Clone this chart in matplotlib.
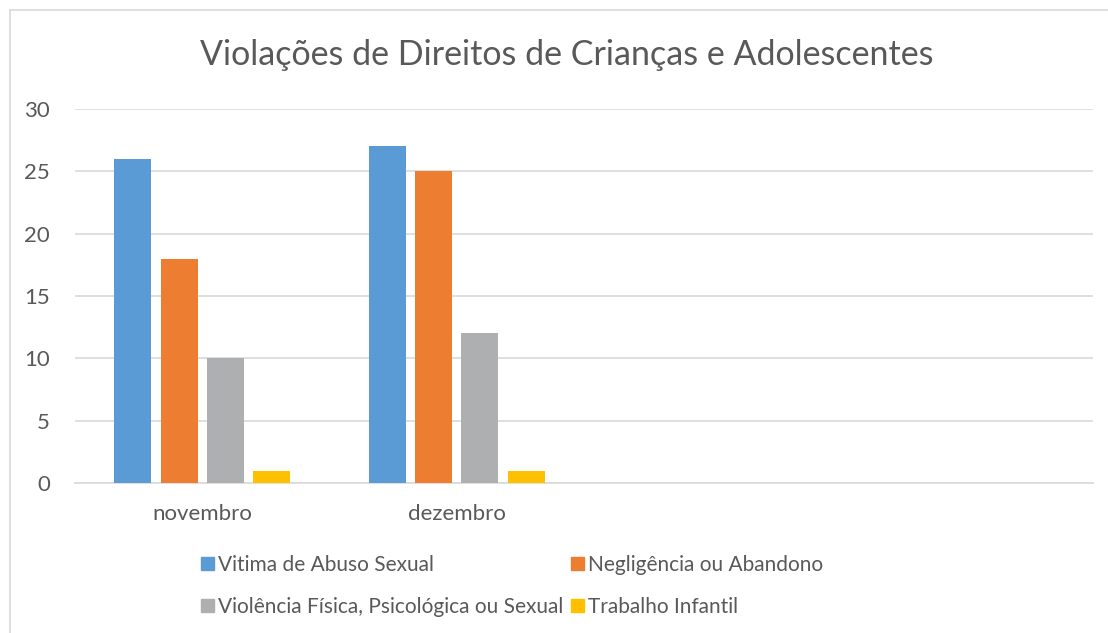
import numpy as np
import matplotlib
matplotlib.use("Agg")
import matplotlib.pyplot as plt
from matplotlib.lines import Line2D
from matplotlib.patches import Patch

# ── data ─────────────────────────────────────────────────────────────────────
categories = ["novembro", "dezembro", "", ""]
series_names = ["Vitima de Abuso Sexual", "Negligência ou Abandono",
                "Violência Física, Psicológica ou Sexual", "Trabalho Infantil"]
abuso = [26, 27, np.nan, np.nan]
negligencia = [18, 25, np.nan, np.nan]
violencia = [10, 12, np.nan, np.nan]
trabalho = [1, 1, np.nan, np.nan]
yticks = [0, 5, 10, 15, 20, 25, 30]

colors = ["#5B9BD5", "#ED7D31", "#AEAFB0", "#FFC000"]
text_col = "#595959"
grid_col = "#D9D9D9"
plt.rcParams["font.family"] = ["Lato", "DejaVu Sans"]

fig = plt.figure(figsize=(11.08, 6.33), dpi=100)
W, H = 1108, 633
ax = fig.add_axes([75 / W, 1 - 483 / H, (1093 - 75) / W, (483 - 109) / H])

# outer chart border (left + top visible)
fig.add_artist(Line2D([10 / W, 10 / W], [0, 1 - 10 / H], color=grid_col, lw=1.2))
fig.add_artist(Line2D([10 / W, 1], [1 - 10 / H, 1 - 10 / H], color=grid_col, lw=1.2))

x = np.arange(len(categories))
bw = 37 / 255
step = 46.3 / 255
all_series = [abuso, negligencia, violencia, trabalho]
for i, vals in enumerate(all_series):
    off = (i - 1.5) * step
    ax.bar(x + off, vals, width=bw, color=colors[i], zorder=3)

ax.set_xlim(-0.5, len(categories) - 0.5)
ax.set_ylim(0, 30)
ax.set_yticks(yticks)
ax.yaxis.grid(True, color=grid_col, lw=1.2, zorder=0)
ax.set_axisbelow(True)
ax.set_xticks(x)
ax.set_xticklabels(categories)
ax.tick_params(length=0, labelsize=16, colors=text_col)
ax.tick_params(axis="y", pad=18)
ax.tick_params(axis="x", pad=15)
for s in ["top", "right", "left"]:
    ax.spines[s].set_visible(False)
ax.spines["bottom"].set_color(grid_col)
ax.spines["bottom"].set_linewidth(1.2)

fig.text(567 / W, 1 - 55 / H, "Violações de Direitos de Crianças e Adolescentes",
         ha="center", va="center", fontsize=24.5, color=text_col)

order = [0, 2, 1, 3]
handles = [Patch(color=colors[i]) for i in order]
labels = [series_names[i] for i in order]
fig.legend(handles, labels, ncol=2, loc="center", bbox_to_anchor=(512 / W, 1 - 586 / H),
           frameon=False, fontsize=15, labelcolor=text_col,
           handlelength=0.62, handleheight=0.62, handletextpad=0.2,
           columnspacing=0.35, labelspacing=1.05)

fig.savefig("out.png", dpi=100)
